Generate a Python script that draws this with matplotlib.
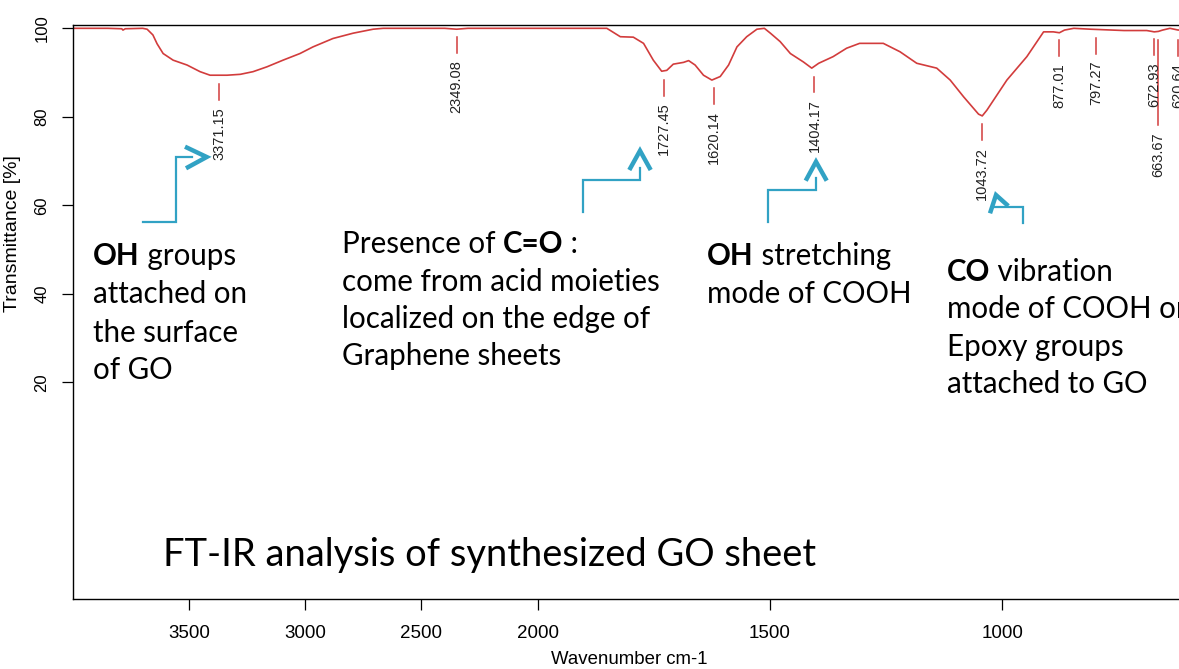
import numpy as np
import matplotlib
matplotlib.use("Agg")
import matplotlib.pyplot as plt
import matplotlib.transforms as mtransforms

# FT-IR spectrum of the GO sheet (wavenumber cm-1, transmittance %)
wavenumber = [4000, 3850, 3790, 3785, 3775, 3700, 3681, 3656, 3638, 3612,
              3569, 3509, 3453, 3410, 3337, 3280, 3225, 3165, 3096, 3023,
              2967, 2881, 2794, 2708, 2665, 2400, 2349, 2300, 1851, 1822,
              1794, 1772, 1751, 1733, 1722, 1708, 1686, 1675, 1661, 1643,
              1625, 1607, 1589, 1571, 1550, 1528, 1512, 1499, 1478, 1456,
              1428, 1410, 1395, 1364, 1335, 1307, 1256, 1220, 1184, 1141,
              1112, 1083, 1051, 1043, 1033, 990, 947, 911, 890, 877,
              866, 846, 810, 738, 689, 678, 673, 664, 655, 639,
              621, 605]
transmittance = [100, 100, 99.9, 99.6, 99.9, 100, 99.8, 98.5, 96.5, 94.3,
                 92.8, 91.7, 90.2, 89.4, 89.4, 89.6, 90.2, 91.3, 92.8, 94.3,
                 95.8, 97.7, 98.9, 99.8, 100, 100, 99.8, 100, 100, 98.1,
                 98.0, 96.6, 92.8, 90.3, 90.5, 91.9, 92.3, 92.7, 91.7, 89.4,
                 88.3, 89.1, 91.7, 95.8, 98.1, 99.8, 100, 98.9, 97.0, 94.3,
                 92.4, 91.0, 92.1, 93.6, 95.5, 96.6, 96.6, 94.7, 92.1, 91.0,
                 88.3, 84.5, 80.6, 80.2, 81.5, 88.3, 93.6, 99.2, 99.2, 99.0,
                 99.6, 100, 99.8, 99.5, 99.5, 99.3, 99.2, 99.3, 99.6, 100,
                 99.6, 100]

# labelled peaks
peak_wn = [3371.15, 2349.08, 1727.45, 1620.14, 1404.17, 1043.72,
           877.01, 797.27, 672.93, 663.67, 620.64]
peak_t = [89.4, 100.0, 90.4, 88.4, 91.1, 80.3, 99.4, 99.9, 99.6, 99.4, 99.4]

x_ticks = [3500, 3000, 2500, 2000, 1500, 1000]
y_ticks = [20, 40, 60, 80, 100]

W, H = 1179, 669
RED = "#d23c3c"
BLUE = "#31a2c4"
ANNOT_FONT = "Lato"


def fwd(w):
    w = np.asarray(w, dtype=float)
    return np.where(w > 2000, 2000 + (w - 2000) / 2.0, w)


def inv(u):
    u = np.asarray(u, dtype=float)
    return np.where(u > 2000, 2000 + 2.0 * (u - 2000), u)


fig = plt.figure(figsize=(W / 100, H / 100), dpi=100)
px = mtransforms.Affine2D().scale(1 / W, -1 / H).translate(0, 1) + fig.transFigure

left, top, bottom = 73, 25, 599
ax_w, ax_h = 1208, bottom - top
ax = fig.add_axes([left / W, 1 - bottom / H, ax_w / W, ax_h / H])
ax.set_xscale("function", functions=(fwd, inv))
ax.set_xlim(4000, 400)
ax.set_ylim(-29, 100.75)

ax.plot(wavenumber, transmittance, color=RED, lw=1.2)

# peak markers
long_tick = {663.67: 19.3}
for wn, t in zip(peak_wn, peak_t):
    top_t = t - 2.0
    bot_t = top_t - long_tick.get(wn, 3.6)
    ax.plot([wn, wn], [top_t, bot_t], color=RED, lw=1.1)
    ax.text(wn, bot_t - 1.6, f"{wn:.2f}", rotation=90, ha="center", va="top",
            fontsize=10.5, family="Liberation Sans", color="#222222")

ax.set_xticks(x_ticks)
ax.set_xticklabels([str(v) for v in x_ticks])
ax.set_yticks(y_ticks)
ax.tick_params(axis="x", direction="out", length=8, width=0.9, pad=11,
               labelsize=13.5)
ax.tick_params(axis="y", direction="out", length=8, width=0.9, pad=9,
               labelsize=12)
for lbl in ax.get_xticklabels() + ax.get_yticklabels():
    lbl.set_family("Liberation Sans")
for lbl in ax.get_yticklabels():
    lbl.set_rotation(90)
    lbl.set_va("center")
ax.minorticks_off()
for s in ax.spines.values():
    s.set_linewidth(1.0)

ax.set_xlabel("Wavenumber cm-1", family="Liberation Sans", fontsize=13.4)
ax.xaxis.set_label_coords((629 - left) / ax_w, -(651 - bottom) / ax_h)
ax.set_ylabel("Transmittance [%]", family="Liberation Sans", fontsize=14)
ax.yaxis.set_label_coords(-(left - 21) / ax_w, 1 - (234 - top) / ax_h)

renderer = fig.canvas.get_renderer()


def fit_size(s, target_px, base=20.0):
    t = fig.text(0, 0, s, fontsize=base, family=ANNOT_FONT)
    w = t.get_window_extent(renderer=renderer).width
    t.remove()
    return base * target_px / w


fs = fit_size("come from acid moieties", 318)
fs_title = fit_size("FT-IR analysis of synthesized GO sheet", 655)
kw = dict(fontsize=fs, family=ANNOT_FONT, color="black")


def note(x, y, parts):
    # parts: list of (text, bold) drawn one after another on a line
    prev = None
    for s, bold in parts:
        w = "bold" if bold else "normal"
        if prev is None:
            prev = fig.text(x, y, s, transform=px, va="baseline", weight=w, **kw)
        else:
            prev = ax.annotate(s, xy=(1, 0), xycoords=prev, va="bottom",
                               weight=w, annotation_clip=False, **kw)


notes = [
    (93, [265, 303.3, 341.7, 379],
     [[("OH", True), (" groups", False)], [("attached on", False)],
      [("the surface", False)], [("of GO", False)]]),
    (341.5, [253.3, 290.7, 328.3, 365.5],
     [[("Presence of ", False), ("C=O", True), (" :", False)],
      [("come from acid moieties", False)],
      [("localized on the edge of", False)], [("Graphene sheets", False)]]),
    (707, [265, 303],
     [[("OH", True), (" stretching", False)], [("mode of COOH", False)]]),
    (947, [280.7, 318.3, 356, 393.3],
     [[("CO", True), (" vibration", False)], [("mode of COOH or", False)],
      [("Epoxy groups", False)], [("attached to GO", False)]]),
]
for x0, ys, lines in notes:
    for y0, parts in zip(ys, lines):
        note(x0, y0, parts)

fig.text(163, 566, "FT-IR analysis of synthesized GO sheet", transform=px,
         va="baseline", fontsize=fs_title, family=ANNOT_FONT, color="black")

# blue callout connectors
connectors = [
    ([143, 175.7, 175.7, 192], [221.7, 221.7, 157.3, 157.3],
     [185, 206.7, 186], [146.7, 157, 168.3]),
    ([582.7, 582.7, 640, 640], [211.7, 180, 180, 168],
     [629.3, 640, 650.7], [170, 150.7, 170]),
    ([767.7, 767.7, 816, 816], [221.7, 190, 190, 178],
     [805.7, 816, 826.7], [180.7, 161.7, 180.7]),
    ([1023.3, 1023.3, 994], [223.3, 206.7, 206.7],
     [990, 996, 1008.3], [213.3, 195, 206]),
]
for lx, ly, cx, cy in connectors:
    ax.plot(lx, ly, transform=px, color=BLUE, lw=1.6, clip_on=False,
            solid_joinstyle="miter")
    ax.plot(cx, cy, transform=px, color=BLUE, lw=3.2, clip_on=False,
            solid_joinstyle="miter", solid_capstyle="butt")

fig.savefig("out.png", dpi=100)
